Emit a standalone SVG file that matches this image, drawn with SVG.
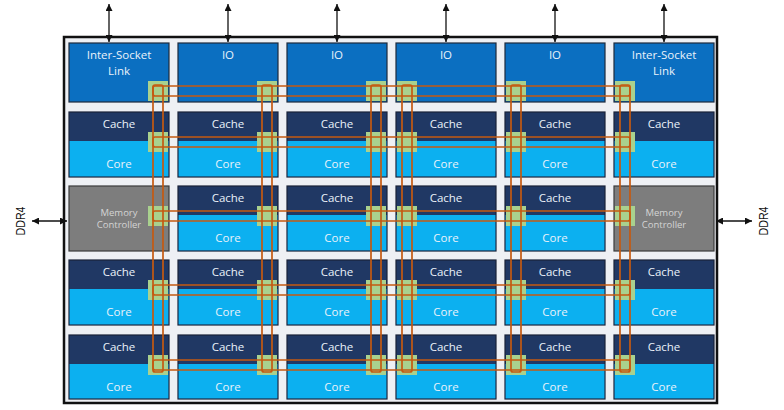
<svg xmlns="http://www.w3.org/2000/svg" width="784" height="410" viewBox="0 0 784 410">
<style>
.frame{fill:#eef0f4;stroke:#111;stroke-width:2.5}
.io{fill:#0b6fc1;stroke:#1d2a3d;stroke-width:1.2}
.cache{fill:#203864;stroke:#1a2238;stroke-width:1.2}
.core{fill:#0cb0f0}
.mem{fill:#7d7d7d;stroke:#3b3b3b;stroke-width:1.2}
.stop{fill:#a9d18e}
.t{font-family:"Open Sans",sans-serif;font-size:11.5px;fill:#eaf2fa;text-anchor:middle}
.m{font-family:"Open Sans",sans-serif;font-size:9.5px;fill:#d4d4d4;text-anchor:middle}
.d{font-family:"Liberation Sans",Arial,sans-serif;font-size:12.5px;fill:#111;text-anchor:middle}
.ring{fill:none;stroke:#c55a11;stroke-width:1.7}
.arr{stroke:#111;stroke-width:1.3;fill:none;marker-start:url(#ah);marker-end:url(#ah)}
</style>
<defs>
<marker id="ah" viewBox="0 0 10 10" refX="10" refY="5" markerWidth="7" markerHeight="7" markerUnits="userSpaceOnUse" orient="auto-start-reverse">
<path d="M0,0 L10,5 L0,10 z" fill="#111"/>
</marker>
</defs>
<rect class="frame" x="64" y="37" width="653" height="366"/>

<!-- Row 1 -->
<g id="isl-left"><rect class="io" x="69" y="43" width="100" height="59"/><rect class="stop" x="148" y="81" width="20" height="20"/><text class="t" x="119" y="59">Inter-Socket</text><text class="t" x="119" y="75">Link</text></g>
<g id="io-1"><rect class="io" x="178" y="43" width="100" height="59"/><rect class="stop" x="257" y="81" width="20" height="20"/><text class="t" x="228" y="59">IO</text></g>
<g id="io-2"><rect class="io" x="287" y="43" width="100" height="59"/><rect class="stop" x="366" y="81" width="20" height="20"/><text class="t" x="337" y="59">IO</text></g>
<g id="io-3"><rect class="io" x="396" y="43" width="100" height="59"/><rect class="stop" x="397" y="81" width="20" height="20"/><text class="t" x="446" y="59">IO</text></g>
<g id="io-4"><rect class="io" x="505" y="43" width="100" height="59"/><rect class="stop" x="506" y="81" width="20" height="20"/><text class="t" x="555" y="59">IO</text></g>
<g id="isl-right"><rect class="io" x="614" y="43" width="100" height="59"/><rect class="stop" x="615" y="81" width="20" height="20"/><text class="t" x="664" y="59">Inter-Socket</text><text class="t" x="664" y="75">Link</text></g>

<!-- Row 2 -->
<g id="tile-2-1"><rect class="cache" x="69" y="112" width="100" height="65"/><rect class="core" x="69.6" y="141" width="98.8" height="35.4"/><rect class="stop" x="148" y="132" width="20" height="20"/><text class="t" x="119" y="128">Cache</text><text class="t" x="119" y="168">Core</text></g>
<g id="tile-2-2"><rect class="cache" x="178" y="112" width="100" height="65"/><rect class="core" x="178.6" y="141" width="98.8" height="35.4"/><rect class="stop" x="257" y="132" width="20" height="20"/><text class="t" x="228" y="128">Cache</text><text class="t" x="228" y="168">Core</text></g>
<g id="tile-2-3"><rect class="cache" x="287" y="112" width="100" height="65"/><rect class="core" x="287.6" y="141" width="98.8" height="35.4"/><rect class="stop" x="366" y="132" width="20" height="20"/><text class="t" x="337" y="128">Cache</text><text class="t" x="337" y="168">Core</text></g>
<g id="tile-2-4"><rect class="cache" x="396" y="112" width="100" height="65"/><rect class="core" x="396.6" y="141" width="98.8" height="35.4"/><rect class="stop" x="397" y="132" width="20" height="20"/><text class="t" x="446" y="128">Cache</text><text class="t" x="446" y="168">Core</text></g>
<g id="tile-2-5"><rect class="cache" x="505" y="112" width="100" height="65"/><rect class="core" x="505.6" y="141" width="98.8" height="35.4"/><rect class="stop" x="506" y="132" width="20" height="20"/><text class="t" x="555" y="128">Cache</text><text class="t" x="555" y="168">Core</text></g>
<g id="tile-2-6"><rect class="cache" x="614" y="112" width="100" height="65"/><rect class="core" x="614.6" y="141" width="98.8" height="35.4"/><rect class="stop" x="615" y="132" width="20" height="20"/><text class="t" x="664" y="128">Cache</text><text class="t" x="664" y="168">Core</text></g>

<!-- Row 3 -->
<g id="mc-left"><rect class="mem" x="69" y="186" width="100" height="65"/><rect class="stop" x="148" y="206" width="20" height="20"/><text class="m" x="119" y="215.5">Memory</text><text class="m" x="119" y="228">Controller</text></g>
<g id="tile-3-2"><rect class="cache" x="178" y="186" width="100" height="65"/><rect class="core" x="178.6" y="215" width="98.8" height="35.4"/><rect class="stop" x="257" y="206" width="20" height="20"/><text class="t" x="228" y="202">Cache</text><text class="t" x="228" y="242">Core</text></g>
<g id="tile-3-3"><rect class="cache" x="287" y="186" width="100" height="65"/><rect class="core" x="287.6" y="215" width="98.8" height="35.4"/><rect class="stop" x="366" y="206" width="20" height="20"/><text class="t" x="337" y="202">Cache</text><text class="t" x="337" y="242">Core</text></g>
<g id="tile-3-4"><rect class="cache" x="396" y="186" width="100" height="65"/><rect class="core" x="396.6" y="215" width="98.8" height="35.4"/><rect class="stop" x="397" y="206" width="20" height="20"/><text class="t" x="446" y="202">Cache</text><text class="t" x="446" y="242">Core</text></g>
<g id="tile-3-5"><rect class="cache" x="505" y="186" width="100" height="65"/><rect class="core" x="505.6" y="215" width="98.8" height="35.4"/><rect class="stop" x="506" y="206" width="20" height="20"/><text class="t" x="555" y="202">Cache</text><text class="t" x="555" y="242">Core</text></g>
<g id="mc-right"><rect class="mem" x="614" y="186" width="100" height="65"/><rect class="stop" x="615" y="206" width="20" height="20"/><text class="m" x="664" y="215.5">Memory</text><text class="m" x="664" y="228">Controller</text></g>

<!-- Row 4 -->
<g id="tile-4-1"><rect class="cache" x="69" y="260" width="100" height="65"/><rect class="core" x="69.6" y="289" width="98.8" height="35.4"/><rect class="stop" x="148" y="280" width="20" height="20"/><text class="t" x="119" y="276">Cache</text><text class="t" x="119" y="316">Core</text></g>
<g id="tile-4-2"><rect class="cache" x="178" y="260" width="100" height="65"/><rect class="core" x="178.6" y="289" width="98.8" height="35.4"/><rect class="stop" x="257" y="280" width="20" height="20"/><text class="t" x="228" y="276">Cache</text><text class="t" x="228" y="316">Core</text></g>
<g id="tile-4-3"><rect class="cache" x="287" y="260" width="100" height="65"/><rect class="core" x="287.6" y="289" width="98.8" height="35.4"/><rect class="stop" x="366" y="280" width="20" height="20"/><text class="t" x="337" y="276">Cache</text><text class="t" x="337" y="316">Core</text></g>
<g id="tile-4-4"><rect class="cache" x="396" y="260" width="100" height="65"/><rect class="core" x="396.6" y="289" width="98.8" height="35.4"/><rect class="stop" x="397" y="280" width="20" height="20"/><text class="t" x="446" y="276">Cache</text><text class="t" x="446" y="316">Core</text></g>
<g id="tile-4-5"><rect class="cache" x="505" y="260" width="100" height="65"/><rect class="core" x="505.6" y="289" width="98.8" height="35.4"/><rect class="stop" x="506" y="280" width="20" height="20"/><text class="t" x="555" y="276">Cache</text><text class="t" x="555" y="316">Core</text></g>
<g id="tile-4-6"><rect class="cache" x="614" y="260" width="100" height="65"/><rect class="core" x="614.6" y="289" width="98.8" height="35.4"/><rect class="stop" x="615" y="280" width="20" height="20"/><text class="t" x="664" y="276">Cache</text><text class="t" x="664" y="316">Core</text></g>

<!-- Row 5 -->
<g id="tile-5-1"><rect class="cache" x="69" y="335" width="100" height="64"/><rect class="core" x="69.6" y="364" width="98.8" height="34.4"/><rect class="stop" x="148" y="355" width="20" height="20"/><text class="t" x="119" y="351">Cache</text><text class="t" x="119" y="391">Core</text></g>
<g id="tile-5-2"><rect class="cache" x="178" y="335" width="100" height="64"/><rect class="core" x="178.6" y="364" width="98.8" height="34.4"/><rect class="stop" x="257" y="355" width="20" height="20"/><text class="t" x="228" y="351">Cache</text><text class="t" x="228" y="391">Core</text></g>
<g id="tile-5-3"><rect class="cache" x="287" y="335" width="100" height="64"/><rect class="core" x="287.6" y="364" width="98.8" height="34.4"/><rect class="stop" x="366" y="355" width="20" height="20"/><text class="t" x="337" y="351">Cache</text><text class="t" x="337" y="391">Core</text></g>
<g id="tile-5-4"><rect class="cache" x="396" y="335" width="100" height="64"/><rect class="core" x="396.6" y="364" width="98.8" height="34.4"/><rect class="stop" x="397" y="355" width="20" height="20"/><text class="t" x="446" y="351">Cache</text><text class="t" x="446" y="391">Core</text></g>
<g id="tile-5-5"><rect class="cache" x="505" y="335" width="100" height="64"/><rect class="core" x="505.6" y="364" width="98.8" height="34.4"/><rect class="stop" x="506" y="355" width="20" height="20"/><text class="t" x="555" y="351">Cache</text><text class="t" x="555" y="391">Core</text></g>
<g id="tile-5-6"><rect class="cache" x="614" y="335" width="100" height="64"/><rect class="core" x="614.6" y="364" width="98.8" height="34.4"/><rect class="stop" x="615" y="355" width="20" height="20"/><text class="t" x="664" y="351">Cache</text><text class="t" x="664" y="391">Core</text></g>

<g id="ddr4-left-label"><text class="d" transform="translate(25,221) rotate(-90)" textLength="29" lengthAdjust="spacingAndGlyphs">DDR4</text></g>
<g id="ddr4-right-label"><text class="d" transform="translate(768,221) rotate(-90)" textLength="29" lengthAdjust="spacingAndGlyphs">DDR4</text></g>

<g id="connectors">
<!-- horizontal mesh rings -->
<rect class="ring" x="153" y="86" width="477" height="10" rx="2"/>
<rect class="ring" x="153" y="137" width="477" height="10" rx="2"/>
<rect class="ring" x="153" y="211" width="477" height="10" rx="2"/>
<rect class="ring" x="153" y="285" width="477" height="10" rx="2"/>
<rect class="ring" x="153" y="360" width="477" height="10" rx="2"/>
<!-- vertical mesh rings -->
<rect class="ring" x="153" y="85" width="10" height="287" rx="2"/>
<rect class="ring" x="262" y="85" width="10" height="287" rx="2"/>
<rect class="ring" x="371" y="85" width="10" height="287" rx="2"/>
<rect class="ring" x="402" y="85" width="10" height="287" rx="2"/>
<rect class="ring" x="511" y="85" width="10" height="287" rx="2"/>
<rect class="ring" x="620" y="85" width="10" height="287" rx="2"/>
<!-- external I/O arrows -->
<line class="arr" x1="109" y1="4" x2="109" y2="42"/>
<line class="arr" x1="228" y1="4" x2="228" y2="42"/>
<line class="arr" x1="337" y1="4" x2="337" y2="42"/>
<line class="arr" x1="446" y1="4" x2="446" y2="42"/>
<line class="arr" x1="555" y1="4" x2="555" y2="42"/>
<line class="arr" x1="664" y1="4" x2="664" y2="42"/>
<line class="arr" x1="32" y1="221" x2="67" y2="221"/>
<line class="arr" x1="716" y1="221" x2="752" y2="221"/>
</g>
</svg>
